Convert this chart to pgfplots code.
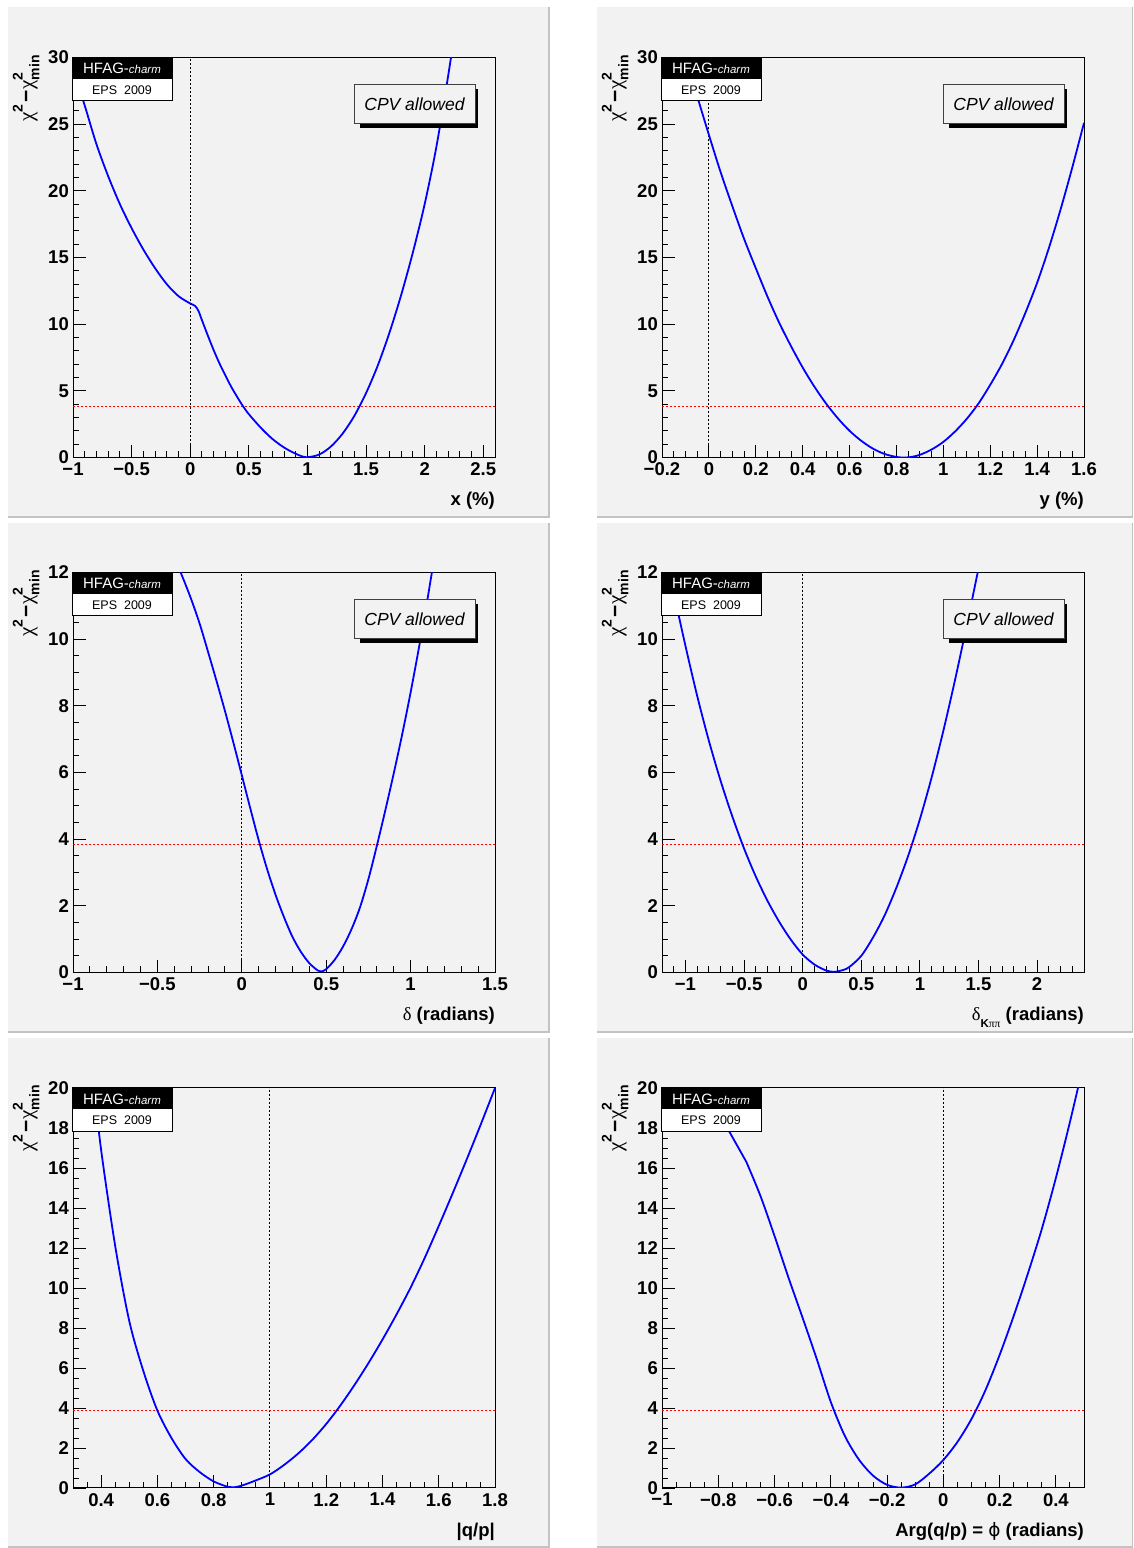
\documentclass[border=0pt]{standalone}
\usepackage{fontspec}
\setmainfont{Liberation Sans}
\newfontfamily\gr{Liberation Serif}
\newfontfamily\grs{DejaVu Sans}
\usepackage{pgfplots}
\pgfplotsset{compat=1.18}
\definecolor{padbg}{RGB}{242,242,242}
\definecolor{bevel}{RGB}{195,195,195}
\definecolor{rootred}{RGB}{255,0,0}

\pgfplotsset{
  hstyle/.style={
    scale only axis, width=422pt, height=400pt, anchor=south west,
    axis line style={line width=1pt, black},
    tick align=inside, tick pos=left,
    major tick length=12.5pt, minor tick length=6.3pt,
    every tick/.append style={black, line width=0.9pt},
    every minor tick/.append style={black, line width=0.9pt},
    ticklabel style={font=\fontsize{18.5}{20}\selectfont\bfseries},
    xticklabel style={inner sep=0pt, yshift=-5pt},
    yticklabel style={inner sep=0pt, xshift=-4pt},
    /pgf/number format/assume math mode=true,
    scaled ticks=false,
  },
  curve/.style={draw=blue, line width=1.8pt, smooth, tension=0.5, no markers},
  zl/.style={draw=black, line width=0.9pt, dash pattern=on 2pt off 2pt, no markers},
  rl/.style={draw=rootred, line width=1.1pt, dash pattern=on 2.2pt off 1.8pt, no markers},
}

\newcommand\pad[4]{%
  \fill[padbg] (#1,#2) rectangle (#3,#4);
  \draw[bevel, line width=1.5pt] (#1,#2+0.75) -- (#3-0.75,#2+0.75) -- (#3-0.75,#4);
}
\newcommand\hfag[2]{%
  \fill[black] (#1,#2-21.5) rectangle (#1+100,#2);
  \fill[white] (#1,#2-43.2) rectangle (#1+100,#2-21.5);
  \draw[black, line width=1pt] (#1,#2-43.2) rectangle (#1+100,#2);
  \node[text=white, inner sep=0] at (#1+50,#2-11) {\fontsize{15}{16}\selectfont HFAG-{\fontsize{11.5}{12}\selectfont\itshape charm}};
  \node[inner sep=0] at (#1+50,#2-32.5) {\fontsize{12.5}{13}\selectfont EPS\ \ 2009};
}
\newcommand\cpv[2]{%
  \fill[black] (#1+287,#2-70.8) rectangle (#1+404.7,#2-31.8);
  \filldraw[fill=padbg, draw=black!75, line width=1pt] (#1+281,#2-66.5) rectangle (#1+402,#2-26.8);
  \node[inner sep=0] at (#1+341.5,#2-46.6) {\fontsize{17.5}{18}\selectfont\itshape CPV allowed};
}
\newcommand\chisq{\fontsize{21}{22}\selectfont{\gr χ}\raisebox{0.5em}{\fontsize{14}{15}\selectfont\bfseries 2}\kern2pt{\bfseries −}\kern1pt{\gr χ}\rlap{\raisebox{0.5em}{\fontsize{14}{15}\selectfont\bfseries 2}}\raisebox{-0.3em}{\fontsize{14}{15}\selectfont\bfseries min}}
\newcommand\lab{\fontsize{18.5}{20}\selectfont\bfseries}

\begin{document}
\begin{tikzpicture}[x=1pt,y=1pt]
\useasboundingbox (0,0) rectangle (1133,1548);
\pad{7.5}{1030}{549.5}{1540.5}
\pad{597}{1030}{1133}{1540.5}
\pad{7.5}{515}{549.5}{1025}
\pad{597}{515}{1133}{1025}
\pad{7.5}{0}{549.5}{510}
\pad{597}{0}{1133}{510}

% ---------- Panel 1: x ----------
\begin{axis}[hstyle, at={(73pt,1090.5pt)}, xmin=-1, xmax=2.6, ymin=0, ymax=30,
  xtick={-1,-0.5,0,0.5,1,1.5,2,2.5}, xticklabels={−1,−0.5,0,0.5,1,1.5,2,2.5},
  minor xtick={-1,-0.9,...,2.6}, ytick={0,5,...,30}, minor ytick={0,1,...,30}]
\addplot[zl] coordinates {(0,0) (0,30)};
\addplot[rl] coordinates {(-1,3.84) (2.6,3.84)};
\addplot[curve] coordinates {(-1.0,29.2) (-0.9,26.4) (-0.8,23.5) (-0.7,21.1) (-0.6,19.0) (-0.5,17.2) (-0.4,15.6) (-0.3,14.2) (-0.2,13.0) (-0.1,12.1) (0.0,11.55) (0.04,11.38) (0.07,11.0) (0.1,10.3) (0.15,9.15) (0.2,8.05) (0.25,7.05) (0.3,6.15) (0.35,5.3) (0.4,4.55) (0.45,3.85) (0.5,3.25) (0.6,2.25) (0.7,1.4) (0.8,0.75) (0.9,0.28) (0.99,0.02) (1.1,0.22) (1.2,0.82) (1.3,1.79) (1.4,3.12) (1.5,4.83) (1.6,6.9) (1.7,9.37) (1.8,12.2) (1.9,15.4) (2.0,19.0) (2.1,23.3) (2.2,28.6) (2.3,34.4)};
\end{axis}

% ---------- Panel 2: y ----------
\begin{axis}[hstyle, at={(662pt,1090.5pt)}, xmin=-0.2, xmax=1.6, ymin=0, ymax=30,
  xtick={-0.2,0,0.2,0.4,0.6,0.8,1,1.2,1.4,1.6}, xticklabels={−0.2,0,0.2,0.4,0.6,0.8,1,1.2,1.4,1.6},
  minor xtick={-0.2,-0.15,...,1.6}, ytick={0,5,...,30}, minor ytick={0,1,...,30}]
\addplot[zl] coordinates {(0,0) (0,30)};
\addplot[rl] coordinates {(-0.2,3.84) (1.6,3.84)};
\addplot[curve] coordinates {(-0.1,30.1) (-0.05,27.1) (0,24.2) (0.05,21.4) (0.1,18.85) (0.15,16.4) (0.2,14.2) (0.25,12.06) (0.3,10.1) (0.35,8.36) (0.4,6.75) (0.45,5.31) (0.5,4.04) (0.55,2.94) (0.6,2.0) (0.65,1.25) (0.7,0.66) (0.75,0.26) (0.8,0.04) (0.83,0) (0.86,0.03) (0.9,0.2) (0.95,0.6) (1.0,1.17) (1.05,1.95) (1.1,2.9) (1.15,4.05) (1.2,5.45) (1.25,7.0) (1.3,8.8) (1.35,10.85) (1.4,13.1) (1.45,15.7) (1.5,18.6) (1.55,21.75) (1.6,25.1)};
\end{axis}

% ---------- Panel 3: delta ----------
\begin{axis}[hstyle, at={(73pt,575.5pt)}, xmin=-1, xmax=1.5, ymin=0, ymax=12,
  xtick={-1,-0.5,0,0.5,1,1.5}, xticklabels={−1,−0.5,0,0.5,1,1.5},
  minor xtick={-1,-0.9,...,1.5}, ytick={0,2,...,12}, minor ytick={0,0.5,...,12}]
\addplot[zl] coordinates {(0,0) (0,12)};
\addplot[rl] coordinates {(-1,3.84) (1.5,3.84)};
\addplot[curve] coordinates {(-0.4,12.45) (-0.35,11.85) (-0.3,11.2) (-0.25,10.47) (-0.2,9.62) (-0.15,8.75) (-0.1,7.85) (-0.05,6.9) (0,5.92) (0.05,4.93) (0.1,3.97) (0.15,3.1) (0.2,2.33) (0.25,1.66) (0.3,1.07) (0.35,0.62) (0.4,0.28) (0.45,0.06) (0.47,0.03) (0.5,0.1) (0.55,0.38) (0.6,0.78) (0.65,1.3) (0.7,1.95) (0.75,2.8) (0.8,3.8) (0.85,4.86) (0.9,5.97) (0.95,7.14) (1.0,8.4) (1.05,9.76) (1.1,11.2) (1.15,12.75)};
\end{axis}

% ---------- Panel 4: delta Kpipi ----------
\begin{axis}[hstyle, at={(662pt,575.5pt)}, xmin=-1.2, xmax=2.4, ymin=0, ymax=12,
  xtick={-1,-0.5,0,0.5,1,1.5,2}, xticklabels={−1,−0.5,0,0.5,1,1.5,2},
  minor xtick={-1.2,-1.1,...,2.4}, ytick={0,2,...,12}, minor ytick={0,0.5,...,12}]
\addplot[zl] coordinates {(0,0) (0,12)};
\addplot[rl] coordinates {(-1.2,3.84) (2.4,3.84)};
\addplot[curve] coordinates {(-1.2,13.1) (-1.1,11.4) (-1.0,9.8) (-0.9,8.3) (-0.8,6.95) (-0.7,5.75) (-0.6,4.68) (-0.5,3.72) (-0.4,2.88) (-0.3,2.15) (-0.2,1.52) (-0.1,0.98) (0,0.54) (0.1,0.24) (0.2,0.06) (0.27,0.02) (0.35,0.08) (0.4,0.17) (0.5,0.5) (0.6,1.05) (0.7,1.72) (0.8,2.55) (0.9,3.5) (1.0,4.6) (1.1,5.85) (1.2,7.25) (1.3,8.78) (1.4,10.42) (1.5,12.12) (1.55,13.0)};
\end{axis}

% ---------- Panel 5: |q/p| ----------
\begin{axis}[hstyle, at={(73pt,60pt)}, xmin=0.3, xmax=1.8, ymin=0, ymax=20,
  xtick={0.4,0.6,0.8,1,1.2,1.4,1.6,1.8}, xticklabels={0.4,0.6,0.8,1,1.2,1.4,1.6,1.8},
  minor xtick={0.3,0.35,...,1.8}, ytick={0,2,...,20}, minor ytick={0,0.5,...,20}]
\addplot[zl] coordinates {(1,0) (1,20)};
\addplot[rl] coordinates {(0.3,3.86) (1.8,3.86)};
\addplot[curve] coordinates {(0.37,20.6) (0.4,16.9) (0.45,12.1) (0.5,8.35) (0.55,5.85) (0.6,3.87) (0.65,2.5) (0.7,1.45) (0.75,0.8) (0.8,0.33) (0.85,0.06) (0.87,0.03) (0.9,0.12) (0.95,0.38) (1.0,0.68) (1.05,1.15) (1.1,1.72) (1.15,2.4) (1.2,3.2) (1.25,4.12) (1.3,5.14) (1.35,6.24) (1.4,7.42) (1.45,8.68) (1.5,10.02) (1.55,11.5) (1.6,13.1) (1.65,14.75) (1.7,16.45) (1.75,18.2) (1.8,20.0)};
\end{axis}

% ---------- Panel 6: Arg(q/p) ----------
\begin{axis}[hstyle, at={(662pt,60pt)}, xmin=-1, xmax=0.5, ymin=0, ymax=20,
  xtick={-1,-0.8,-0.6,-0.4,-0.2,0,0.2,0.4}, xticklabels={−1,−0.8,−0.6,−0.4,−0.2,0,0.2,0.4},
  minor xtick={-1,-0.95,...,0.5}, ytick={0,2,...,20}, minor ytick={0,0.5,...,20}]
\addplot[zl] coordinates {(0,0) (0,20)};
\addplot[rl] coordinates {(-1,3.86) (0.5,3.86)};
\addplot[curve] coordinates {(-0.85,20.05) (-0.8,18.8) (-0.75,17.55) (-0.7,16.3)};
\addplot[curve] coordinates {(-0.7,16.3) (-0.65,14.6) (-0.6,12.6) (-0.55,10.5) (-0.5,8.5) (-0.45,6.45) (-0.4,4.3) (-0.35,2.6) (-0.3,1.42) (-0.25,0.62) (-0.2,0.16) (-0.15,0.02) (-0.1,0.18) (-0.05,0.72) (0,1.4) (0.05,2.3) (0.1,3.45) (0.15,4.9) (0.2,6.65) (0.25,8.6) (0.3,10.7) (0.35,12.95) (0.4,15.5) (0.45,18.3) (0.5,21.3)};
\end{axis}

% ---------- annotations ----------
\hfag{72}{1490.5}\hfag{661}{1490.5}
\hfag{72}{975.5}\hfag{661}{975.5}
\hfag{72}{460}\hfag{661}{460}
\cpv{73}{1490.5}\cpv{662}{1490.5}
\cpv{73}{975.5}\cpv{662}{975.5}

\foreach \xx in {33,622}{
  \foreach \yy in {1493,978,463}{
    \node[rotate=90, anchor=base east, inner sep=0] at (\xx,\yy) {\chisq};
  }
}
\node[anchor=base east, inner sep=0] at (495,1042) {\lab x (\%)};
\node[anchor=base east, inner sep=0] at (1084,1042) {\lab y (\%)};
\node[anchor=base east, inner sep=0] at (495,527) {\lab{\mdseries\gr δ} (radians)};
\node[anchor=base east, inner sep=0] at (1084,527) {\lab{\mdseries\gr δ}\raisebox{-6.5pt}{\fontsize{11.5}{12}\selectfont\bfseries K{\mdseries\gr ππ}} (radians)};
\node[anchor=base east, inner sep=0] at (495,12) {\lab |q/p|};
\node[anchor=base east, inner sep=0] at (1084,12) {\lab Arg(q/p) = {\mdseries\grs ϕ} (radians)};
\end{tikzpicture}
\end{document}
